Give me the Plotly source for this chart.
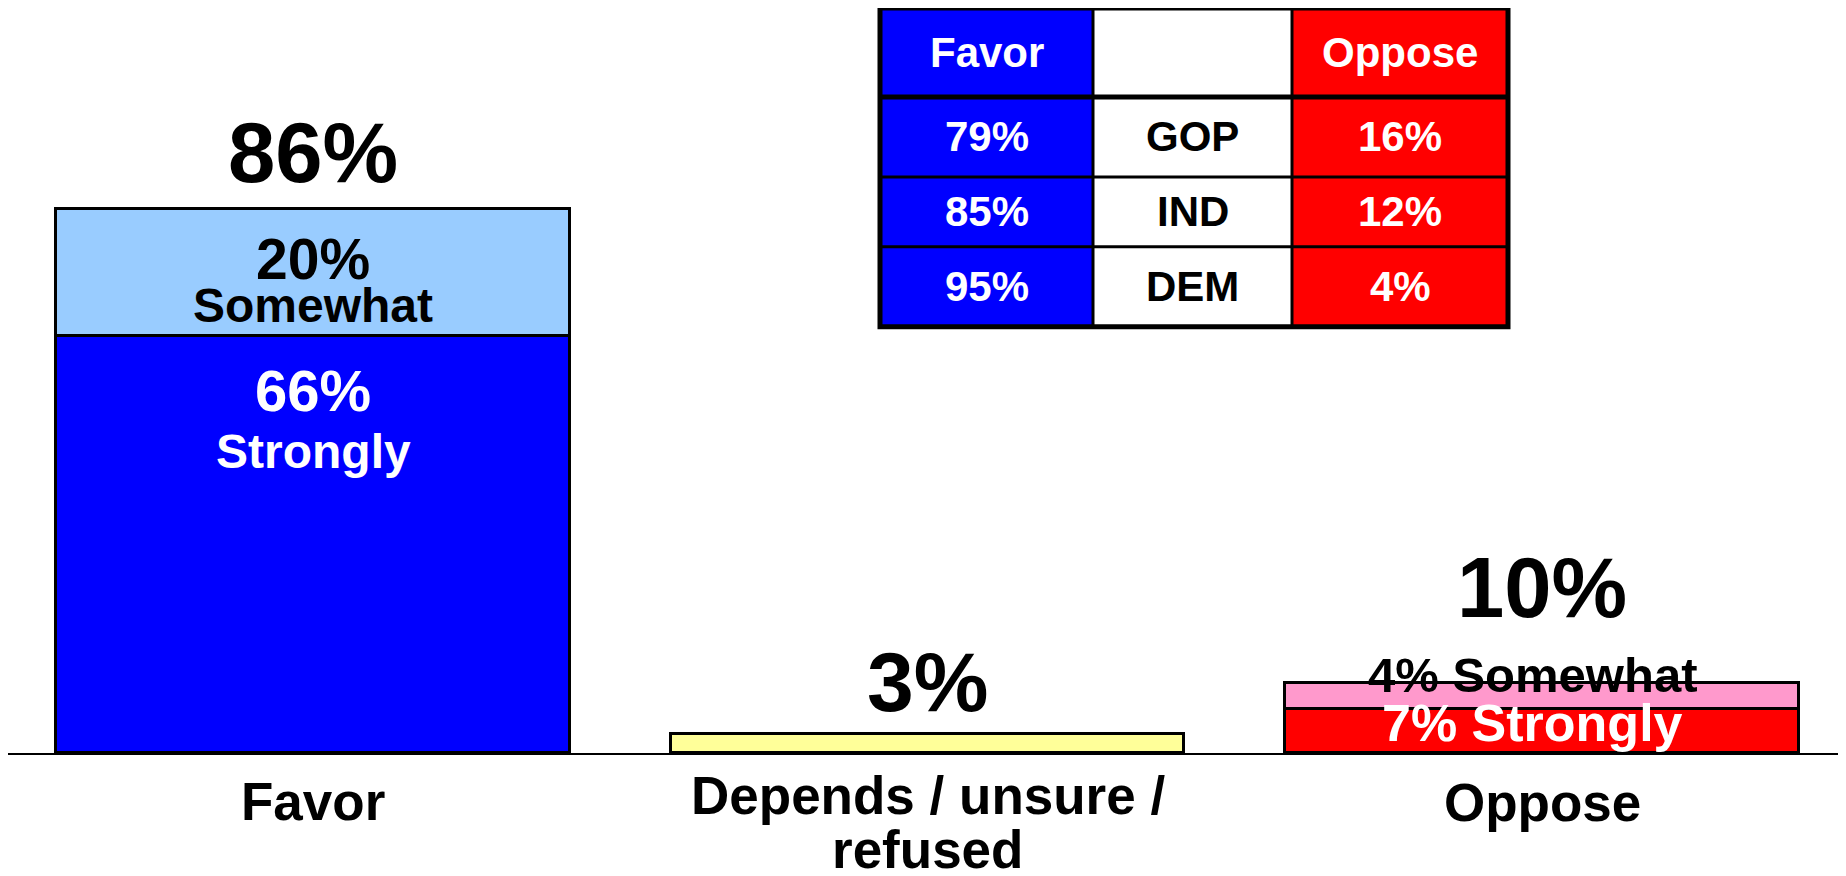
import plotly.graph_objects as go

# ---------------- data ----------------
categories = ["Favor", "Depends / unsure / refused", "Oppose"]
category_lines = [["Favor"], ["Depends / unsure /", "refused"], ["Oppose"]]
base_values = [66, 3, 7]          # Strongly favor / depends / strongly oppose
top_values = [20, None, 4]        # Somewhat favor / - / somewhat oppose
total_labels = [86, 3, 10]

base_colors = ["#0000FF", "#FFFF99", "#FF0000"]
top_colors = ["#99CCFF", "#FFFFFF", "#FF99CC"]

table_header = ["Favor", "", "Oppose"]
parties = ["GOP", "IND", "DEM"]
party_favor = [79, 85, 95]
party_oppose = [16, 12, 4]

# ---------------- layout constants ----------------
W, H = 1846, 876
OFF = 8                       # page body margin
ML, MR, MT, MB = 0, 0, 0, 130.5
PX_PER_UNIT = 6.326
plot_h = H - MT - MB
plot_w = W - ML - MR
FONT = "Liberation Sans, Arial, sans-serif"

fig = go.Figure()
fig.add_trace(go.Bar(
    x=categories, y=base_values, width=0.835,
    marker=dict(color=base_colors, line=dict(color="black", width=3)),
    hoverinfo="skip", showlegend=False))
fig.add_trace(go.Bar(
    x=categories, y=top_values, width=0.835,
    marker=dict(color=top_colors, line=dict(color="black", width=3)),
    hoverinfo="skip", showlegend=False))

ann = []


def label(x, y, text, size, color="black", yshift=0, xshift=0):
    ann.append(dict(x=x, y=y, xref="x", yref="y", text=text, showarrow=False,
                    yanchor="middle", xanchor="center", yshift=yshift, xshift=xshift,
                    font=dict(family=FONT, size=size, color=color, weight="bold")))


# totals above bars
totals_y = [base_values[i] + (top_values[i] or 0) for i in range(3)]
label(categories[0], totals_y[0], f"{total_labels[0]}%", 85, yshift=57)
label(categories[1], totals_y[1], f"{total_labels[1]}%", 84, yshift=52)
label(categories[2], totals_y[2], f"{total_labels[2]}%", 85, yshift=96)

# segment labels, Favor
label(categories[0], totals_y[0], f"{top_values[0]}%", 57, yshift=-50)
label(categories[0], totals_y[0], "Somewhat", 48, yshift=-96)
label(categories[0], base_values[0], f"{base_values[0]}%", 58, color="white", yshift=-55)
label(categories[0], base_values[0], "Strongly", 48, color="white", yshift=-116)

# segment labels, Oppose
label(categories[2], totals_y[2], f"{top_values[2]}% Somewhat", 49, yshift=8, xshift=-10)
label(categories[2], base_values[2], f"{base_values[2]}% Strongly", 52, color="white",
      yshift=-14, xshift=-10)

# category labels (below axis)
cat_shifts = [[-48], [-42, -96], [-49]]
for c, lines, shifts in zip(categories, category_lines, cat_shifts):
    for ln, sh in zip(lines, shifts):
        label(c, 0, ln, 53, yshift=sh)


# ---------------- table (paper coords from page-pixel geometry) ----------------
def px(xp):
    return (xp - OFF - ML) / plot_w


def py(yp):
    return (H - MB - (yp - OFF)) / plot_h


col_edges = [880, 1093, 1292, 1508]
row_edges = [8, 97, 177, 247, 327]
col_fill = ["#0000FF", "#FFFFFF", "#FF0000"]
col_font = ["white", "black", "white"]

shapes = []
for j in range(3):
    shapes.append(dict(type="rect", xref="paper", yref="paper",
                       x0=px(col_edges[j]), x1=px(col_edges[j + 1]),
                       y0=py(row_edges[0]), y1=py(row_edges[-1]),
                       fillcolor=col_fill[j], line=dict(width=0), layer="above"))
for j in (1, 2):
    shapes.append(dict(type="line", xref="paper", yref="paper",
                       x0=px(col_edges[j]), x1=px(col_edges[j]),
                       y0=py(row_edges[0]), y1=py(row_edges[-1]),
                       line=dict(color="black", width=3), layer="above"))
for i in (1, 2, 3):
    shapes.append(dict(type="line", xref="paper", yref="paper",
                       x0=px(col_edges[0]), x1=px(col_edges[-1]),
                       y0=py(row_edges[i]), y1=py(row_edges[i]),
                       line=dict(color="black", width=5 if i == 1 else 3), layer="above"))
shapes.append(dict(type="rect", xref="paper", yref="paper",
                   x0=px(col_edges[0]), x1=px(col_edges[-1]),
                   y0=py(row_edges[-1]), y1=py(row_edges[0]),
                   line=dict(color="black", width=5), layer="above"))

table_rows = [table_header] + [[f"{f}%", p, f"{o}%"] for f, p, o in zip(party_favor, parties, party_oppose)]
for i, row in enumerate(table_rows):
    yc = (row_edges[i] + row_edges[i + 1]) / 2
    for j, txt in enumerate(row):
        if not txt:
            continue
        xc = (col_edges[j] + col_edges[j + 1]) / 2
        ann.append(dict(x=px(xc), y=py(yc), xref="paper", yref="paper", text=txt,
                        showarrow=False, xanchor="center", yanchor="middle",
                        font=dict(family=FONT, size=42, color=col_font[j], weight="bold")))

# category centres at page x 313, 928, 1542 -> 614.5 px per category
UNIT = 614.5
x0 = -(313 - OFF - ML) / UNIT
x1 = x0 + plot_w / UNIT

fig.update_layout(
    width=W, height=H,
    margin=dict(l=ML, r=MR, t=MT, b=MB, pad=0),
    barmode="stack", bargap=0,
    plot_bgcolor="white", paper_bgcolor="white",
    xaxis=dict(range=[x0, x1], showticklabels=False, ticks="",
               showgrid=False, zeroline=False, showline=True,
               linecolor="black", linewidth=2, fixedrange=True),
    yaxis=dict(range=[0, plot_h / PX_PER_UNIT], visible=False, showgrid=False,
               zeroline=False, fixedrange=True),
    annotations=ann, shapes=shapes, showlegend=False,
)

fig.write_html("out.html")
